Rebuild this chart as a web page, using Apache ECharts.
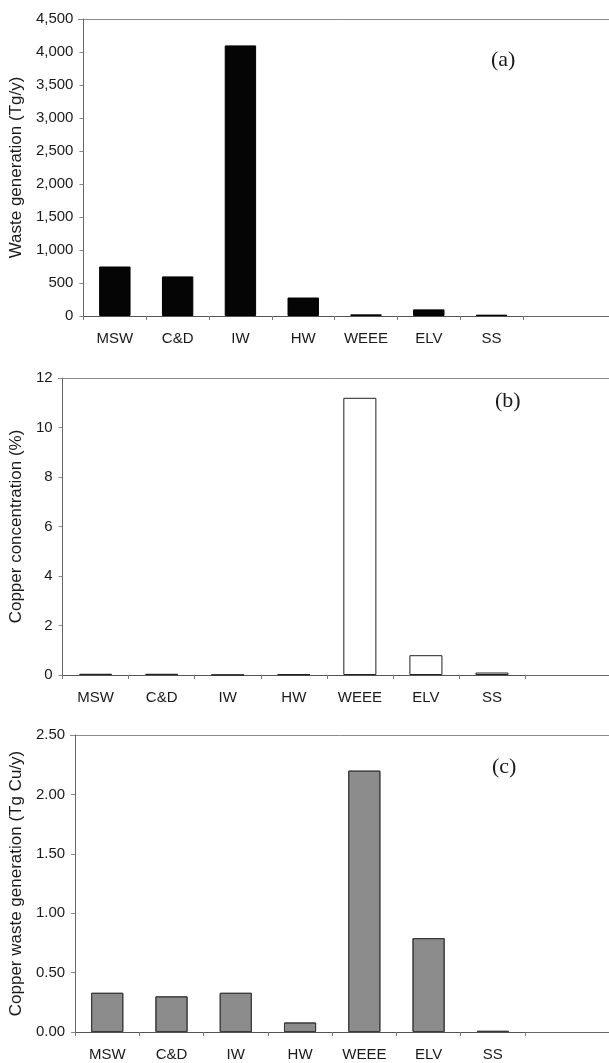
<!DOCTYPE html>
<html>
<head>
<meta charset="utf-8">
<script src="https://cdn.jsdelivr.net/npm/echarts@6/dist/echarts.min.js"></script>
<style>html,body{margin:0;padding:0;background:#fff}#c{width:609px;height:1063px}</style>
</head>
<body>
<div id="c"></div>
<script>
const categories = ['MSW', 'C&D', 'IW', 'HW', 'WEEE', 'ELV', 'SS'];
const wasteGeneration = [750, 600, 4100, 280, 25, 100, 20];           // Tg/y
const copperConcentration = [0.05, 0.05, 0.01, 0.03, 11.2, 0.8, 0.1]; // %
const copperWaste = [0.33, 0.30, 0.33, 0.08, 2.20, 0.79, 0.01];       // Tg Cu/y
const panelLabels = ['(a)', '(b)', '(c)'];
const yTitles = ['Waste generation (Tg/y)', 'Copper concentration (%)', 'Copper waste generation (Tg Cu/y)'];

const SANS = '"Liberation Sans", Arial, sans-serif';
const SERIF = '"Liberation Serif", "Times New Roman", serif';
const W = 609;

const grids = [
  {left: 78, top: 19, width: 445, height: 297},
  {left: 58, top: 378, width: 467, height: 297},
  {left: 70, top: 735, width: 455, height: 297}
];

const yCfg = [
  {max: 4500, interval: 500, fmt: v => v.toLocaleString('en-US'), gap: 47},
  {max: 12, interval: 2, fmt: v => String(v), gap: 27},
  {max: 2.5, interval: 0.5, fmt: v => v.toFixed(2), gap: 39}
];

const xAxis = grids.map((g, i) => ({
  type: 'category', gridIndex: i, data: categories,
  axisLine: {lineStyle: {color: '#555', width: 1}},
  axisTick: {show: true, length: 4, lineStyle: {color: '#777'}},
  axisLabel: {color: '#1a1a1a', fontSize: 15, fontFamily: SANS, margin: 15}
}));

const yAxis = yCfg.map((c, i) => ({
  type: 'value', gridIndex: i, min: 0, max: c.max, interval: c.interval,
  name: yTitles[i], nameLocation: 'middle', nameGap: c.gap,
  nameTextStyle: {color: '#1a1a1a', fontSize: 17, fontFamily: SANS},
  axisLine: {show: true, lineStyle: {color: '#666', width: 1}},
  axisTick: {show: true, length: 4, lineStyle: {color: '#888'}},
  splitLine: {show: false},
  axisLabel: {color: '#1a1a1a', fontSize: 15, fontFamily: SANS, margin: 10, formatter: c.fmt}
}));

const series = [
  {type: 'bar', xAxisIndex: 0, yAxisIndex: 0, data: wasteGeneration, barCategoryGap: '50%',
   itemStyle: {color: '#050505', borderColor: '#000', borderWidth: 1}},
  {type: 'bar', xAxisIndex: 1, yAxisIndex: 1, data: copperConcentration, barCategoryGap: '50%',
   itemStyle: {color: '#ffffff', borderColor: '#222', borderWidth: 1}},
  {type: 'bar', xAxisIndex: 2, yAxisIndex: 2, data: copperWaste, barCategoryGap: '50%',
   itemStyle: {color: '#8c8c8c', borderColor: '#3a3a3a', borderWidth: 1,
     decal: {symbol: 'none', dashArrayX: [1, 0], dashArrayY: [1, 2], rotation: -Math.PI / 4, color: 'rgba(0,0,0,0.15)'}}}
];

const labelPos = [{left: 491, top: 49}, {left: 495, top: 390}, {left: 492, top: 756}];
const title = panelLabels.map((t, i) => ({
  text: t, left: labelPos[i].left, top: labelPos[i].top, padding: 0,
  textStyle: {fontFamily: SERIF, fontSize: 22, fontWeight: 'normal', color: '#1a1a1a'}
}));

// frame decoration: top border and x-axis line continue to the picture's right edge
const graphic = [];
grids.forEach(g => {
  const right = g.left + g.width, bottom = g.top + g.height;
  graphic.push({type: 'line', shape: {x1: g.left, y1: g.top + 0.5, x2: W, y2: g.top + 0.5},
    style: {stroke: '#8a8a8a', lineWidth: 1}, silent: true});
  graphic.push({type: 'line', shape: {x1: right, y1: bottom + 0.5, x2: W, y2: bottom + 0.5},
    style: {stroke: '#666', lineWidth: 1}, silent: true});
});

const chart = echarts.init(document.getElementById('c'), null, {renderer: 'canvas'});
chart.setOption({
  animation: false,
  backgroundColor: '#fff',
  title, grid: grids, xAxis, yAxis, series, graphic
});
</script>
</body>
</html>
